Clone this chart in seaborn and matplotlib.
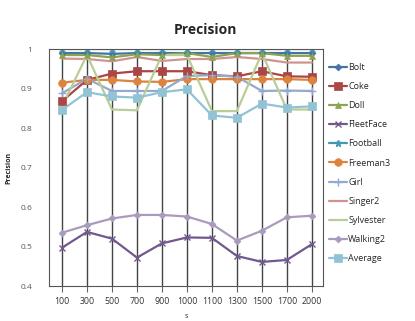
import numpy as np
import pandas as pd
import matplotlib
matplotlib.use("Agg")
import matplotlib.pyplot as plt
import seaborn as sns

# x categories
s_values = ["100", "300", "500", "700", "900", "1000", "1100", "1300", "1500", "1700", "2000"]

# precision per sequence
bolt = [0.990, 0.990, 0.988, 0.990, 0.990, 0.990, 0.990, 0.990, 0.990, 0.990, 0.990]
coke = [0.868, 0.922, 0.938, 0.944, 0.944, 0.944, 0.934, 0.931, 0.944, 0.931, 0.930]
doll = [0.985, 0.985, 0.979, 0.987, 0.985, 0.990, 0.980, 0.990, 0.990, 0.983, 0.983]
fleetface = [0.497, 0.537, 0.520, 0.472, 0.508, 0.523, 0.522, 0.476, 0.461, 0.466, 0.506]
football = [1.0, 1.0, 1.0, 1.0, 1.0, 1.0, 1.0, 1.0, 1.0, 1.0, 1.0]
freeman3 = [0.915, 0.922, 0.922, 0.918, 0.917, 0.924, 0.924, 0.924, 0.924, 0.924, 0.922]
girl = [0.888, 0.925, 0.894, 0.894, 0.894, 0.932, 0.934, 0.930, 0.894, 0.895, 0.894]
singer2 = [0.976, 0.975, 0.969, 0.980, 0.970, 0.975, 0.975, 0.980, 0.975, 0.966, 0.966]
sylvester = [0.855, 0.985, 0.847, 0.845, 0.985, 0.985, 0.843, 0.843, 0.990, 0.847, 0.847]
walking2 = [0.535, 0.554, 0.571, 0.580, 0.580, 0.576, 0.557, 0.515, 0.540, 0.574, 0.578]
average = [0.846, 0.891, 0.880, 0.877, 0.891, 0.898, 0.832, 0.826, 0.862, 0.852, 0.855]

names = ["Bolt", "Coke", "Doll", "FleetFace", "Football", "Freeman3",
         "Girl", "Singer2", "Sylvester", "Walking2", "Average"]
series = [bolt, coke, doll, fleetface, football, freeman3,
          girl, singer2, sylvester, walking2, average]

colors = ["#4572A7", "#AA4643", "#89A54E", "#71588F", "#4198AF", "#DB843D",
          "#93A9CF", "#D19392", "#B9CD96", "#A99BBD", "#91C3D5"]
markers = ["D", "s", "^", "x", "x", "o", "+", "", "", "D", "s"]
msizes = [3.5, 5.5, 4.5, 5, 5, 5.5, 6, 0, 0, 3.5, 5.5]

rows = []
for name, vals in zip(names, series):
    for i, v in enumerate(vals):
        rows.append({"pos": i, "s": s_values[i], "Precision": v, "tracker": name})
df = pd.DataFrame(rows)

sns.set_style("white")
plt.rcParams["font.family"] = ["Open Sans", "DejaVu Sans"]

fig = plt.figure(figsize=(4.15, 3.21), dpi=100)
ax = fig.add_axes([0.118, 0.109, 0.66, 0.738])

# vertical lines at each category
for i in range(len(s_values)):
    ax.axvline(i, color="#444444", lw=1.0, zorder=0)

palette = dict(zip(names, colors))
sns.lineplot(data=df, x="pos", y="Precision", hue="tracker", hue_order=names,
             palette=palette, lw=1.6, legend=False, ax=ax)

for name, vals, c, m, ms in zip(names, series, colors, markers, msizes):
    if m:
        ax.plot(range(len(vals)), vals, linestyle="none", marker=m, color=c,
                markersize=ms, markeredgewidth=1.0 if m in "x+" else 0.5)
    if name == "Football":
        ax.plot(range(len(vals)), vals, linestyle="none", marker="|", color=c,
                markersize=5, markeredgewidth=1.0)

ax.set_xlim(-0.52, 10.44)
ax.set_ylim(0.4, 1.0)
ax.set_yticks([0.4, 0.5, 0.6, 0.7, 0.8, 0.9, 1.0])
ax.set_yticklabels(["0.4", "0.5", "0.6", "0.7", "0.8", "0.9", "1"])
ax.set_xticks(range(len(s_values)))
ax.set_xticklabels(s_values)
ax.tick_params(axis="y", labelsize=6, colors="#555555", length=0, pad=12)
ax.tick_params(axis="x", labelsize=6.3, colors="#333333", length=4, direction="out",
               color="#666666", pad=4)
ax.xaxis.set_ticks_position("bottom")
for sp in ax.spines.values():
    sp.set_color("#555555")
    sp.set_linewidth(0.8)

ax.set_xlabel("s", fontsize=5, labelpad=5)
ax.set_ylabel("Precision", fontsize=5, fontweight="bold", labelpad=6)
fig.text(0.495, 0.895, "Precision", ha="center", fontsize=10, fontweight="bold")

# legend
handles = []
for name, c, m, ms in zip(names, colors, markers, msizes):
    if name == "Football":
        m = "*"
    h = plt.Line2D([], [], color=c, lw=1.6, marker=m if m else None,
                   markersize=ms, markeredgewidth=1.0 if m in ("x", "+", "*") else 0.5)
    handles.append(h)
fig.legend(handles, names, loc="upper left", bbox_to_anchor=(0.785, 0.815),
           frameon=False, fontsize=6.5, handlelength=2.0, handletextpad=0.1,
           labelspacing=1.12, borderaxespad=0)

fig.savefig("out.png", dpi=100)
